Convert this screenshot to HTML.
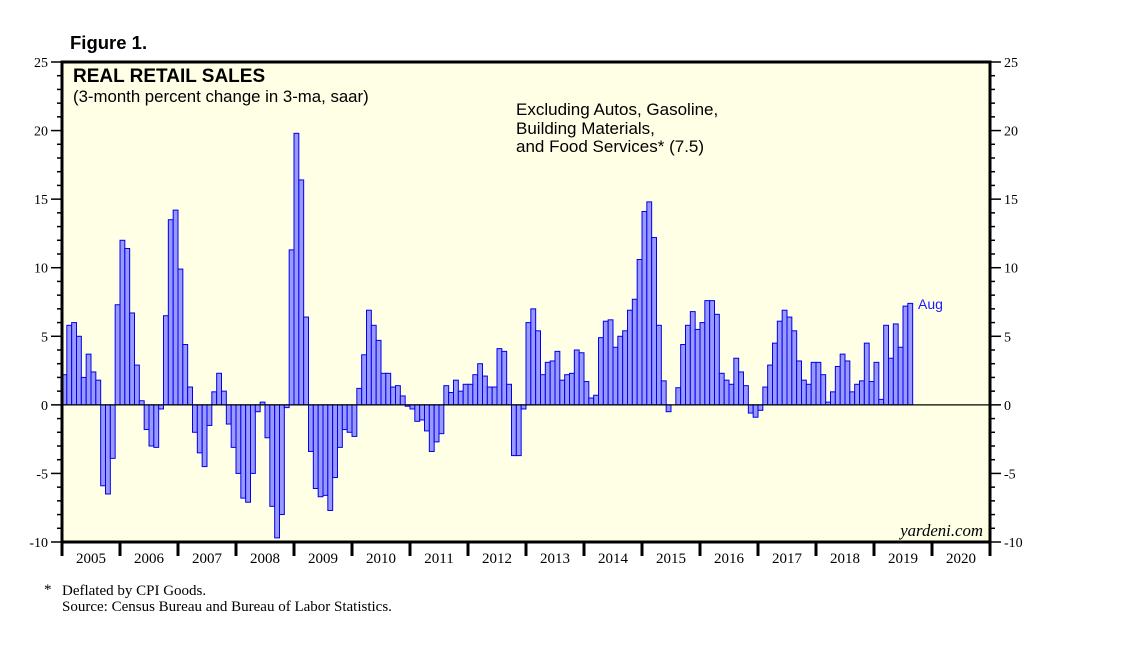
<!DOCTYPE html>
<html><head><meta charset="utf-8"><style>
html,body{margin:0;padding:0;background:#fff}
svg{display:block}
text{font-family:"Liberation Sans",sans-serif}
.serif{font-family:"Liberation Serif",serif}
</style></head><body>
<svg id="chart" width="1138" height="647">
<text x="70" y="49" font-size="18.5" font-weight="bold">Figure 1.</text>
<rect x="62" y="62" width="928" height="480" fill="#ffffe6"/>
<g id="grid"></g>
<g id="bars"></g>
<line id="zero" x1="62" x2="990" stroke="#000" stroke-width="1.2"/>
<rect x="62" y="62" width="928" height="480" fill="none" stroke="#000" stroke-width="3"/>
<g id="axes"></g>
<text x="73" y="82" font-size="19" font-weight="bold">REAL RETAIL SALES</text>
<text x="73" y="102" font-size="16.8">(3-month percent change in 3-ma, saar)</text>
<text x="516" y="115" font-size="17">Excluding Autos, Gasoline,</text>
<text x="516" y="134" font-size="17">Building Materials,</text>
<text x="516" y="152" font-size="17">and Food Services* (7.5)</text>
<text x="918" y="309" font-size="14" fill="#1a1aff">Aug</text>
<text x="983" y="536" font-size="16.8" font-style="italic" text-anchor="end" class="serif">yardeni.com</text>
<text x="44" y="594" font-size="15" class="serif">*</text>
<text x="62" y="595" font-size="15" class="serif">Deflated by CPI Goods.</text>
<text x="62" y="611" font-size="15" class="serif">Source: Census Bureau and Bureau of Labor Statistics.</text>
</svg>
<script>
const startYear = 2005;
const yearLabels = ["2005","2006","2007","2008","2009","2010","2011","2012","2013","2014","2015","2016","2017","2018","2019","2020"];
const yTicks = [-10,-5,0,5,10,15,20,25];
const values = [
 2.2,5.8,6.0,5.0,2.0,3.7,2.4,1.8,-5.9,-6.5,-3.9,7.3,
 12.0,11.4,6.7,2.9,0.3,-1.8,-3.0,-3.1,-0.3,6.5,13.5,14.2,
 9.9,4.4,1.3,-2.0,-3.5,-4.5,-1.5,0.95,2.3,1.0,-1.4,-3.1,
 -5.0,-6.8,-7.1,-5.0,-0.5,0.2,-2.4,-7.4,-9.7,-8.0,-0.2,11.3,
 19.8,16.4,6.4,-3.4,-6.1,-6.7,-6.6,-7.7,-5.3,-3.1,-1.8,-2.0,
 -2.3,1.2,3.65,6.9,5.8,4.7,2.3,2.3,1.3,1.4,0.65,-0.1,
 -0.3,-1.2,-1.1,-1.9,-3.4,-2.7,-2.1,1.4,0.9,1.8,1.0,1.5,
 1.5,2.2,3.0,2.1,1.3,1.3,4.1,3.9,1.5,-3.7,-3.7,-0.3,
 6.0,7.0,5.4,2.2,3.1,3.2,3.9,1.8,2.2,2.3,4.0,3.8,
 1.7,0.5,0.7,4.9,6.1,6.2,4.2,5.0,5.4,6.9,7.7,10.6,
 14.1,14.8,12.2,5.8,1.75,-0.5,0,1.25,4.4,5.8,6.8,5.5,
 6.0,7.6,7.6,6.6,2.3,1.8,1.5,3.4,2.4,1.4,-0.6,-0.9,
 -0.4,1.3,2.9,4.5,6.1,6.9,6.4,5.4,3.2,1.8,1.5,3.1,
 3.1,2.2,0.2,0.95,2.8,3.7,3.2,0.95,1.5,1.75,4.5,1.7,
 3.1,0.4,5.8,3.4,5.9,4.2,7.2,7.4
];
const NS="http://www.w3.org/2000/svg";
const L=62,R=990,T=62,B=542,yMin=-10,yMax=25;
const nYears=yearLabels.length, monthW=(R-L)/(nYears*12);
function y(v){return B-(v-yMin)/(yMax-yMin)*(B-T);}
function x(i){return L+i*monthW;}
function mk(tag,attrs,parent){const e=document.createElementNS(NS,tag);for(const k in attrs)e.setAttribute(k,attrs[k]);parent.appendChild(e);return e;}
const bars=document.getElementById('bars'),axes=document.getElementById('axes');
document.getElementById('zero').setAttribute('y1',y(0));
document.getElementById('zero').setAttribute('y2',y(0));
values.forEach((v,i)=>{
 if(v===0)return;
 const r=mk('rect',{x:x(i),y:Math.min(y(v),y(0)),width:monthW,height:Math.abs(y(v)-y(0)),fill:'#9999ff',stroke:'#0000ee','stroke-width':1},bars);
 
 
});
for(let v=yMin;v<=yMax;v++){
 const major=v%5===0, len=major?11:5;
 mk('line',{x1:L-len,x2:L,y1:y(v),y2:y(v),stroke:'#000','stroke-width':1.5},axes);
 mk('line',{x1:R,x2:R+len,y1:y(v),y2:y(v),stroke:'#000','stroke-width':1.5},axes);
}
yTicks.forEach(v=>{
 const t1=mk('text',{x:L-14,y:y(v)+5,'font-size':14,'text-anchor':'end',class:'serif'},axes);
 t1.textContent=v;
 
 
 const t2=mk('text',{x:R+14,y:y(v)+5,'font-size':14,class:'serif'},axes);
 t2.textContent=v;
 
 
});
yearLabels.forEach((lab,k)=>{
 mk('line',{x1:x(k*12),x2:x(k*12),y1:B,y2:B+14,stroke:'#000','stroke-width':3},axes);
 const t=mk('text',{x:x(k*12+6),y:B+21,'font-size':15,'text-anchor':'middle',class:'serif'},axes);
 t.textContent=lab;
 
 
});
mk('line',{x1:R,x2:R,y1:B,y2:B+14,stroke:'#000','stroke-width':3},axes);
</script>
</body></html>
